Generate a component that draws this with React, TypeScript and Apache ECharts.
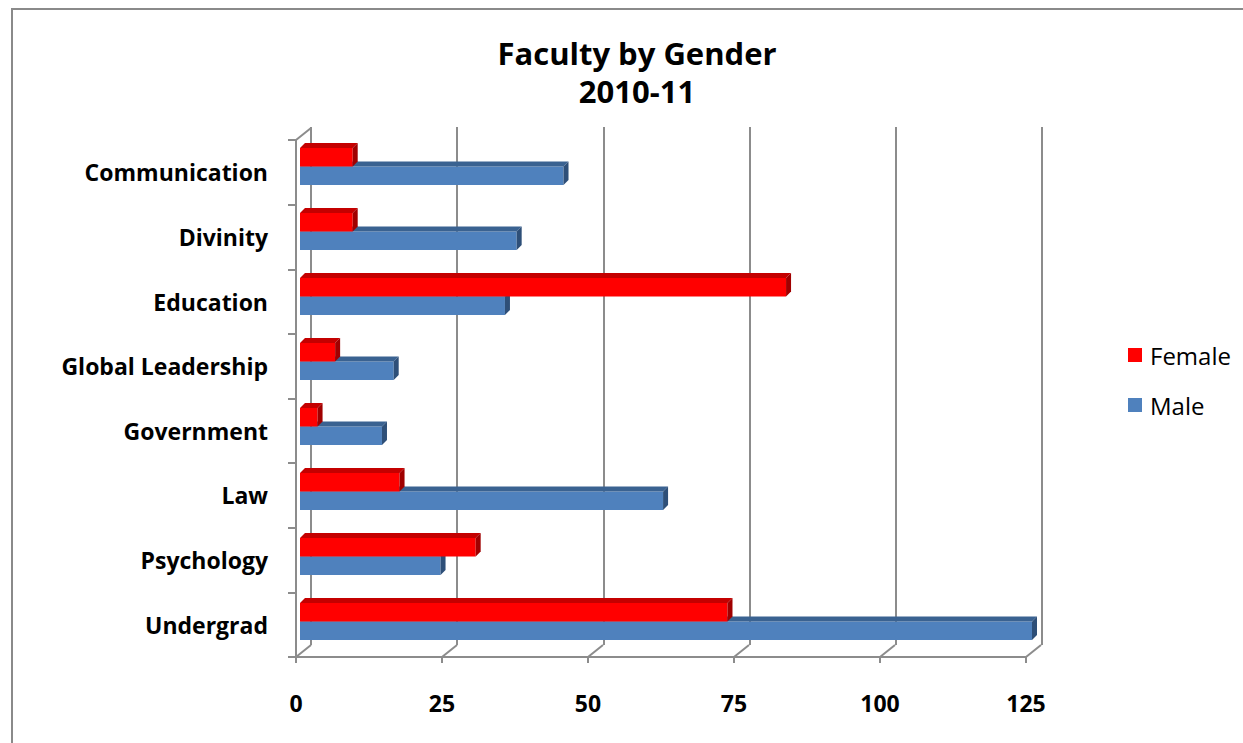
import React, { useEffect, useRef } from "react";
import * as echarts from "echarts";

const categories = [
  "Communication",
  "Divinity",
  "Education",
  "Global Leadership",
  "Government",
  "Law",
  "Psychology",
  "Undergrad",
];
const femaleValues = [9, 9, 83, 6, 3, 17, 30, 73];
const maleValues = [45, 37, 35, 16, 14, 62, 24, 125];
const xTicks = [0, 25, 50, 75, 100, 125];
const titleLines = ["Faculty by Gender", "2010-11"];

const FONT = "'Open Sans', Lato, sans-serif";
const GRID_COLOR = "#8c8c8c";

function barRenderer(isFemale: boolean, colors: { front: string; top: string; side: string }) {
  return (params: any, api: any) => {
    const v = api.value(0);
    const i = api.value(1);
    const start = api.coord([0, i]);
    const end = api.coord([v, i]);
    const band = api.size([0, 1])[1];
    const h = band * 0.285;
    const d = 5;
    const x0 = start[0];
    const x1 = end[0];
    const y0 = isFemale ? start[1] - h : start[1];
    return {
      type: "group",
      children: [
        {
          type: "rect",
          shape: { x: x0, y: y0, width: x1 - x0, height: h },
          style: { fill: colors.front },
        },
        {
          type: "polygon",
          shape: { points: [[x0, y0], [x0 + d, y0 - d], [x1 + d, y0 - d], [x1, y0]] },
          style: { fill: colors.top },
        },
        {
          type: "polygon",
          shape: { points: [[x1, y0], [x1 + d, y0 - d], [x1 + d, y0 + h - d], [x1, y0 + h]] },
          style: { fill: colors.side },
        },
      ],
    };
  };
}

export default function App() {
  const ref = useRef<HTMLDivElement>(null);
  useEffect(() => {
    if (!ref.current) return;
    const chart = echarts.init(ref.current, null, { renderer: "svg" });
    const femaleData = femaleValues.map((v, i) => [v, i]);
    const maleData = maleValues.map((v, i) => [v, i]);
    const option: any = {
      animation: false,
      backgroundColor: "#ffffff",
      textStyle: { fontFamily: FONT },
      graphic: [
        {
          type: "rect",
          shape: { x: 12, y: 9, width: 1300, height: 800 },
          style: { fill: "none", stroke: "#8a8a8a", lineWidth: 2 },
          silent: true,
        },
        {
          type: "text",
          x: 637,
          y: 53,
          style: {
            text: titleLines[0],
            font: `bold 31px ${FONT}`,
            fill: "#000",
            textAlign: "center",
            textVerticalAlign: "middle",
          },
        },
        {
          type: "text",
          x: 637,
          y: 91,
          style: {
            text: titleLines[1],
            font: `bold 31px ${FONT}`,
            fill: "#000",
            textAlign: "center",
            textVerticalAlign: "middle",
          },
        },
      ],
      legend: {
        data: ["Female", "Male"],
        orient: "vertical",
        left: 1123,
        top: 338,
        icon: "rect",
        itemWidth: 14,
        itemHeight: 14,
        itemGap: 26,
        textStyle: { fontSize: 24, lineHeight: 24, color: "#000", fontFamily: FONT, padding: [0, 0, 0, 3] },
      },
      grid: [
        { left: 311, top: 127, width: 731, height: 518 },
        { left: 296, top: 140, width: 730, height: 517 },
        { left: 300, top: 134, width: 732, height: 520 },
      ],
      xAxis: [
        {
          gridIndex: 0,
          type: "value",
          min: 0,
          max: 125,
          interval: 25,
          axisLine: { show: false },
          axisTick: { show: false },
          axisLabel: { show: false },
          splitLine: { show: true, lineStyle: { color: GRID_COLOR, width: 2 } },
        },
        {
          gridIndex: 1,
          type: "value",
          min: 0,
          max: 125,
          interval: 25,
          axisLine: { show: true, lineStyle: { color: GRID_COLOR, width: 2 } },
          axisTick: { show: true, length: 6, lineStyle: { color: GRID_COLOR, width: 2 } },
          axisLabel: {
            show: true,
            margin: 34,
            color: "#000",
            fontSize: 23,
            fontWeight: "bold",
            fontFamily: FONT,
            formatter: (v: number) => (xTicks.includes(v) ? String(v) : ""),
          },
          splitLine: { show: false },
        },
        {
          gridIndex: 2,
          type: "value",
          min: 0,
          max: 125,
          show: false,
        },
      ],
      yAxis: [
        {
          gridIndex: 0,
          type: "category",
          data: categories,
          inverse: true,
          show: false,
        },
        {
          gridIndex: 1,
          type: "category",
          data: categories,
          inverse: true,
          axisLine: { show: true, lineStyle: { color: GRID_COLOR, width: 2 } },
          axisTick: { show: true, length: 8, lineStyle: { color: GRID_COLOR, width: 2 } },
          axisLabel: {
            margin: 28,
            color: "#000",
            fontSize: 23,
            fontWeight: "bold",
            fontFamily: FONT,
          },
          splitLine: { show: false },
        },
        {
          gridIndex: 2,
          type: "category",
          data: categories,
          inverse: true,
          show: false,
        },
      ],
      series: [
        {
          name: "Floor",
          type: "custom",
          xAxisIndex: 1,
          yAxisIndex: 1,
          silent: true,
          data: xTicks.map((t) => [t, 0]),
          encode: { x: 0, y: 1 },
          renderItem: (params: any, api: any) => {
            const cs = params.coordSys;
            const p = api.coord([api.value(0), 0]);
            const yb = cs.y + cs.height;
            const children: any[] = [
              {
                type: "line",
                shape: { x1: p[0], y1: yb, x2: p[0] + 15, y2: yb - 12 },
                style: { stroke: GRID_COLOR, lineWidth: 2 },
              },
            ];
            if (params.dataIndex === 0) {
              children.push({
                type: "line",
                shape: { x1: cs.x, y1: cs.y, x2: cs.x + 15, y2: cs.y - 12 },
                style: { stroke: GRID_COLOR, lineWidth: 2 },
              });
            }
            return { type: "group", children };
          },
          z: 1,
        },
        {
          name: "Male",
          type: "custom",
          xAxisIndex: 2,
          yAxisIndex: 2,
          data: maleData,
          encode: { x: 0, y: 1 },
          itemStyle: { color: "#4f81bd" },
          renderItem: barRenderer(false, { front: "#4f81bd", top: "#3a6291", side: "#2e4f78" }),
          z: 3,
        },
        {
          name: "Female",
          type: "custom",
          xAxisIndex: 2,
          yAxisIndex: 2,
          data: femaleData,
          encode: { x: 0, y: 1 },
          itemStyle: { color: "#ff0000" },
          renderItem: barRenderer(true, { front: "#ff0000", top: "#c40000", side: "#a00000" }),
          z: 4,
        },
      ],
    };
    chart.setOption(option);
    return () => chart.dispose();
  }, []);
  return (
    <div
      ref={ref}
      style={{ position: "absolute", left: 0, top: 0, width: 1243, height: 743 }}
    />
  );
}
